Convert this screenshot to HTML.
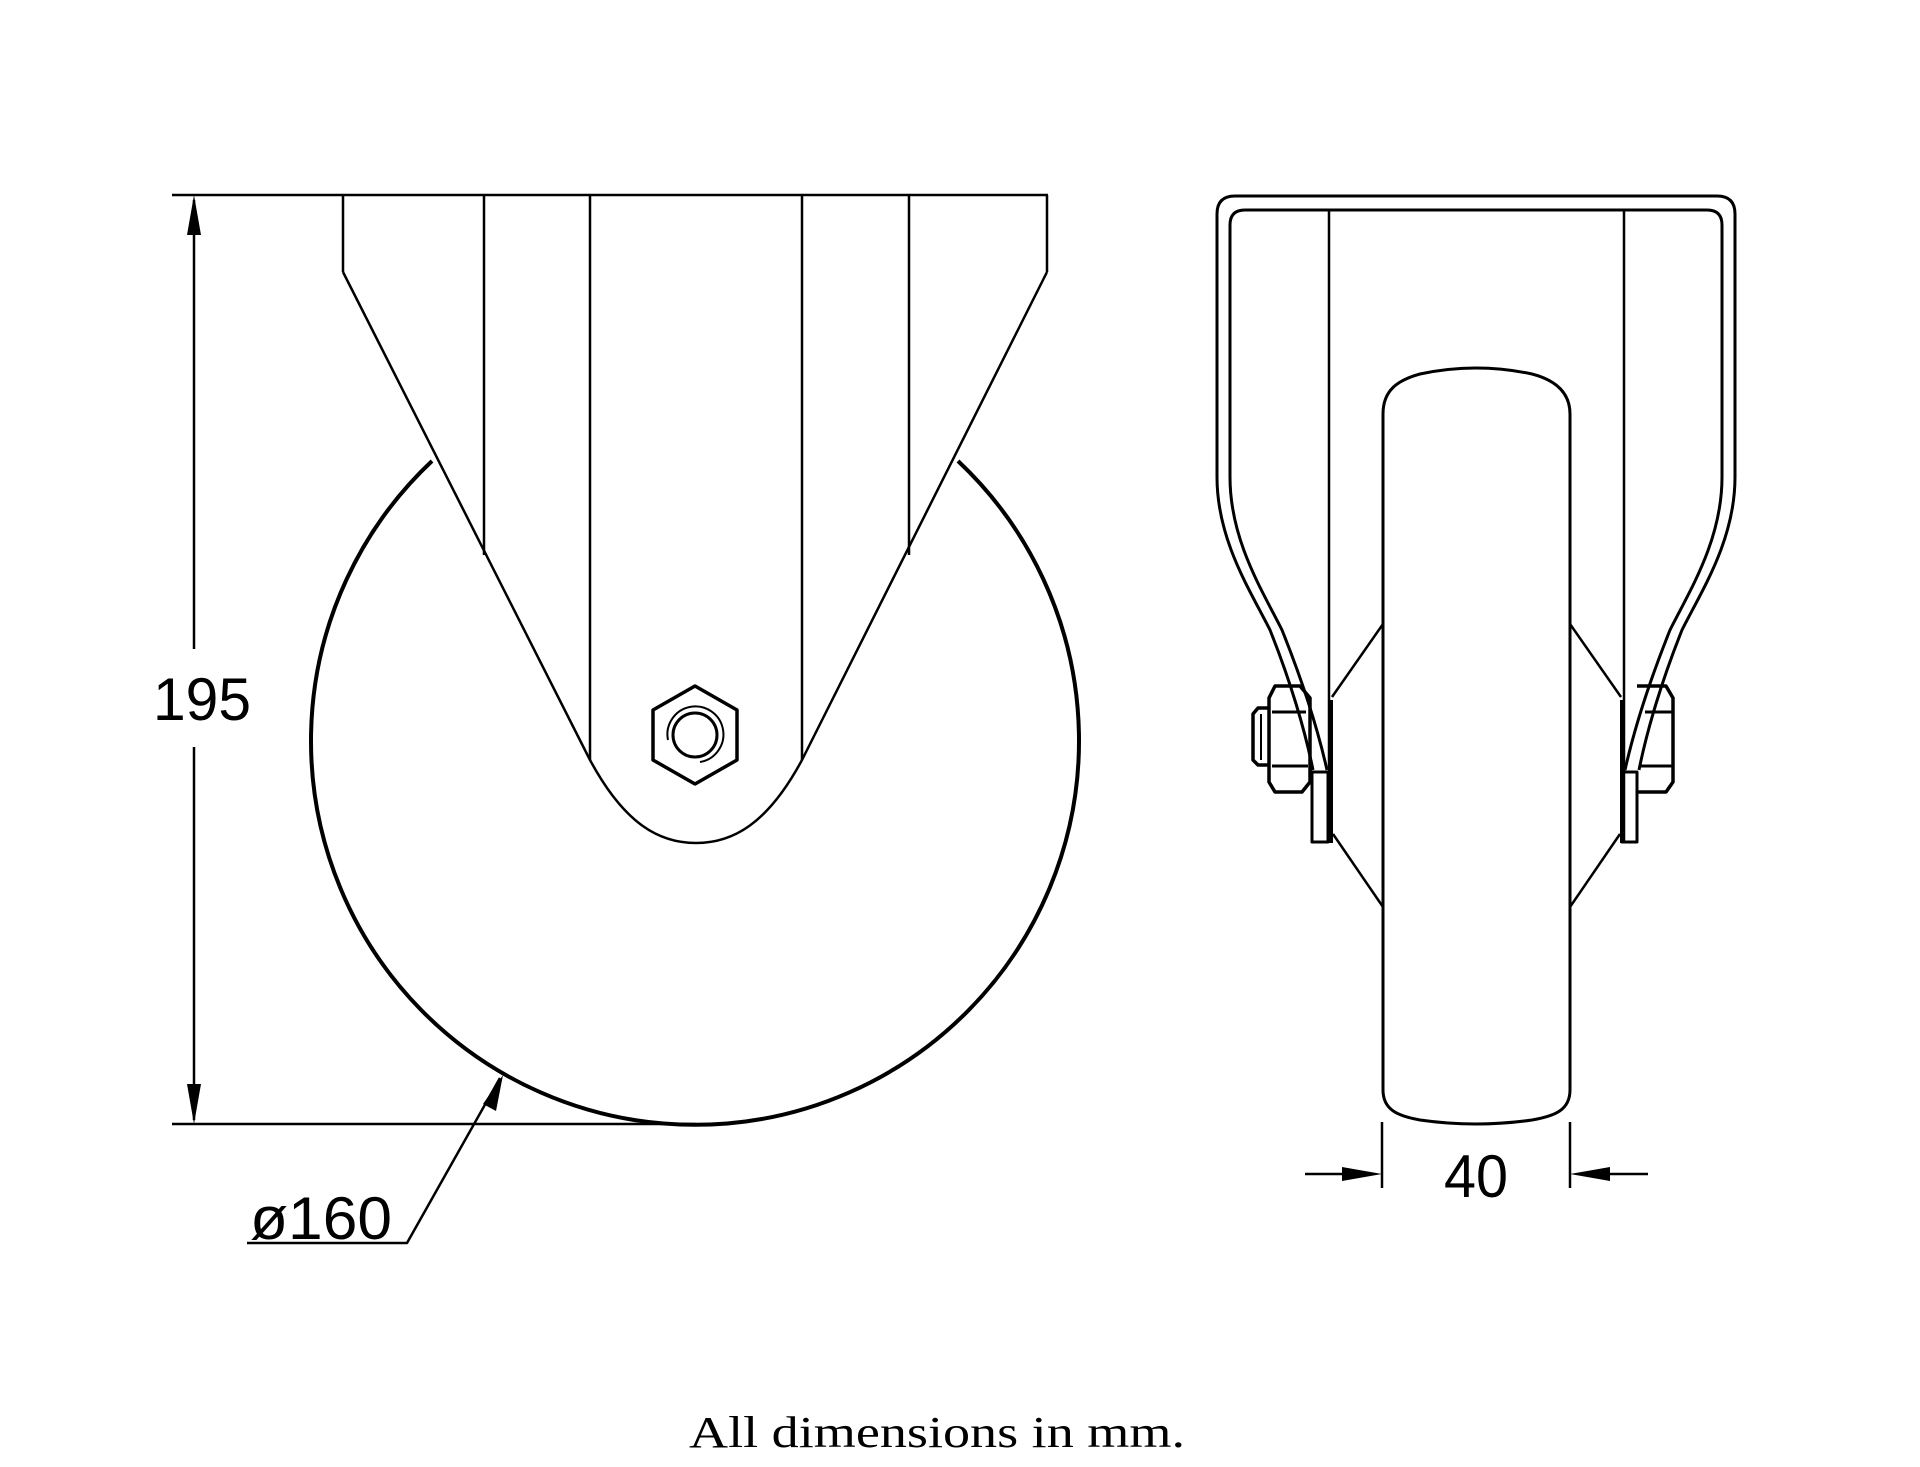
<!DOCTYPE html>
<html><head><meta charset="utf-8"><style>html,body{margin:0;padding:0;background:#fff}svg{display:block}</style></head>
<body>
<svg width="1920" height="1467" viewBox="0 0 1920 1467" xmlns="http://www.w3.org/2000/svg">
<g fill="none" stroke="#000" stroke-width="2.5" stroke-linejoin="round">
<line x1="172" y1="195" x2="1048" y2="195"/>
<line x1="343" y1="195" x2="343" y2="272"/>
<line x1="1047" y1="195" x2="1047" y2="272"/>
<line x1="484" y1="195" x2="484" y2="555"/>
<line x1="909" y1="195" x2="909" y2="555"/>
<line x1="590" y1="195" x2="590" y2="760"/>
<line x1="802" y1="195" x2="802" y2="760"/>
<path d="M343,272 L590,760 C625,825 660,843 696,843 C732,843 767,825 802,760 L1047,272"/>
<path d="M432,461 A384,384 0 1 0 958,461" stroke-width="4"/>
<polygon points="695,686 737,710 737,760 695,784 653,760 653,710" stroke-width="3.5"/>
<circle cx="695" cy="735" r="22" stroke-width="3"/>
<path d="M668,740 A28,28 0 1 1 700,762" stroke-width="2"/>
<line x1="194" y1="200" x2="194" y2="649"/>
<line x1="194" y1="747" x2="194" y2="1120"/>
<line x1="172" y1="1124" x2="696" y2="1124"/>
<polyline points="500,1078 407,1243 247,1243"/>
<path d="M1313,770 C1305,730 1290,680 1270,630 C1250,590 1217,540 1217,477 V214 Q1217,196 1235,196 H1717 Q1735,196 1735,214 V477 C1735,540 1702,590 1682,630 C1662,680 1647,730 1639,770" stroke-width="3"/>
<path d="M1327,770 C1318,730 1302,680 1282,630 C1262,590 1230,540 1230,477 V225 Q1230,210 1245,210 H1707 Q1722,210 1722,225 V477 C1722,540 1690,590 1670,630 C1650,680 1634,730 1625,770" stroke-width="3"/>
<line x1="1329" y1="210" x2="1329" y2="843"/>
<line x1="1624" y1="210" x2="1624" y2="843"/>
<line x1="1331" y1="700" x2="1331" y2="843" stroke-width="4"/>
<line x1="1622" y1="700" x2="1622" y2="843" stroke-width="4"/>
<path d="M1383,1090 V414 C1383,390 1398,380 1420,374 Q1476,362 1532,374 C1555,380 1570,392 1570,414 V1090 C1570,1110 1555,1116 1532,1120 Q1476,1128 1420,1120 C1398,1116 1383,1110 1383,1090 Z" stroke-width="3"/>
<line x1="1332" y1="697" x2="1383" y2="624"/>
<line x1="1333" y1="834" x2="1383" y2="907"/>
<line x1="1621" y1="697" x2="1570" y2="624"/>
<line x1="1620" y1="834" x2="1570" y2="907"/>
<rect x="1312" y="772" width="16" height="70" stroke-width="3"/>
<rect x="1622" y="772" width="15" height="70" stroke-width="3"/>
<path d="M1275,686 H1300 L1310,698 V782 L1302,792 H1275 L1269,782 V698 Z" stroke-width="3.5"/>
<line x1="1272" y1="712" x2="1306" y2="712" stroke-width="3"/>
<line x1="1272" y1="766" x2="1308" y2="766" stroke-width="3"/>
<path d="M1269,708 H1258 L1253,714 V760 L1258,765 H1269" stroke-width="3.5"/>
<line x1="1261" y1="714" x2="1261" y2="760" stroke-width="2"/>
<path d="M1637,686 H1666 L1673,698 V782 L1666,792 H1637" stroke-width="3.5"/>
<line x1="1645" y1="712" x2="1672" y2="712" stroke-width="3"/>
<line x1="1640" y1="766" x2="1672" y2="766" stroke-width="3"/>
<line x1="1382" y1="1122" x2="1382" y2="1188"/>
<line x1="1570" y1="1122" x2="1570" y2="1188"/>
<line x1="1305" y1="1174" x2="1345" y2="1174"/>
<line x1="1608" y1="1174" x2="1648" y2="1174"/>
</g>
<g fill="#000">
<polygon points="194,195 187,235 201,235"/>
<polygon points="194,1124 187,1084 201,1084"/>
<polygon points="503,1075 483,1104 496,1111"/>
<polygon points="1382,1174 1342,1167 1342,1181"/>
<polygon points="1570,1174 1610,1167 1610,1181"/>
</g>
<g font-family="'Liberation Sans', 'DejaVu Sans', sans-serif" font-size="60" fill="#000">
<text x="153" y="720" textLength="98" lengthAdjust="spacingAndGlyphs">195</text>
<text x="250" y="1239" textLength="142" lengthAdjust="spacingAndGlyphs">ø160</text>
<text x="1444" y="1197" textLength="64" lengthAdjust="spacingAndGlyphs">40</text>
</g>
<text x="689" y="1447" font-family="'Liberation Serif', serif" font-size="44" textLength="496" lengthAdjust="spacingAndGlyphs" fill="#000">All dimensions in mm.</text>
</svg>
</body></html>
